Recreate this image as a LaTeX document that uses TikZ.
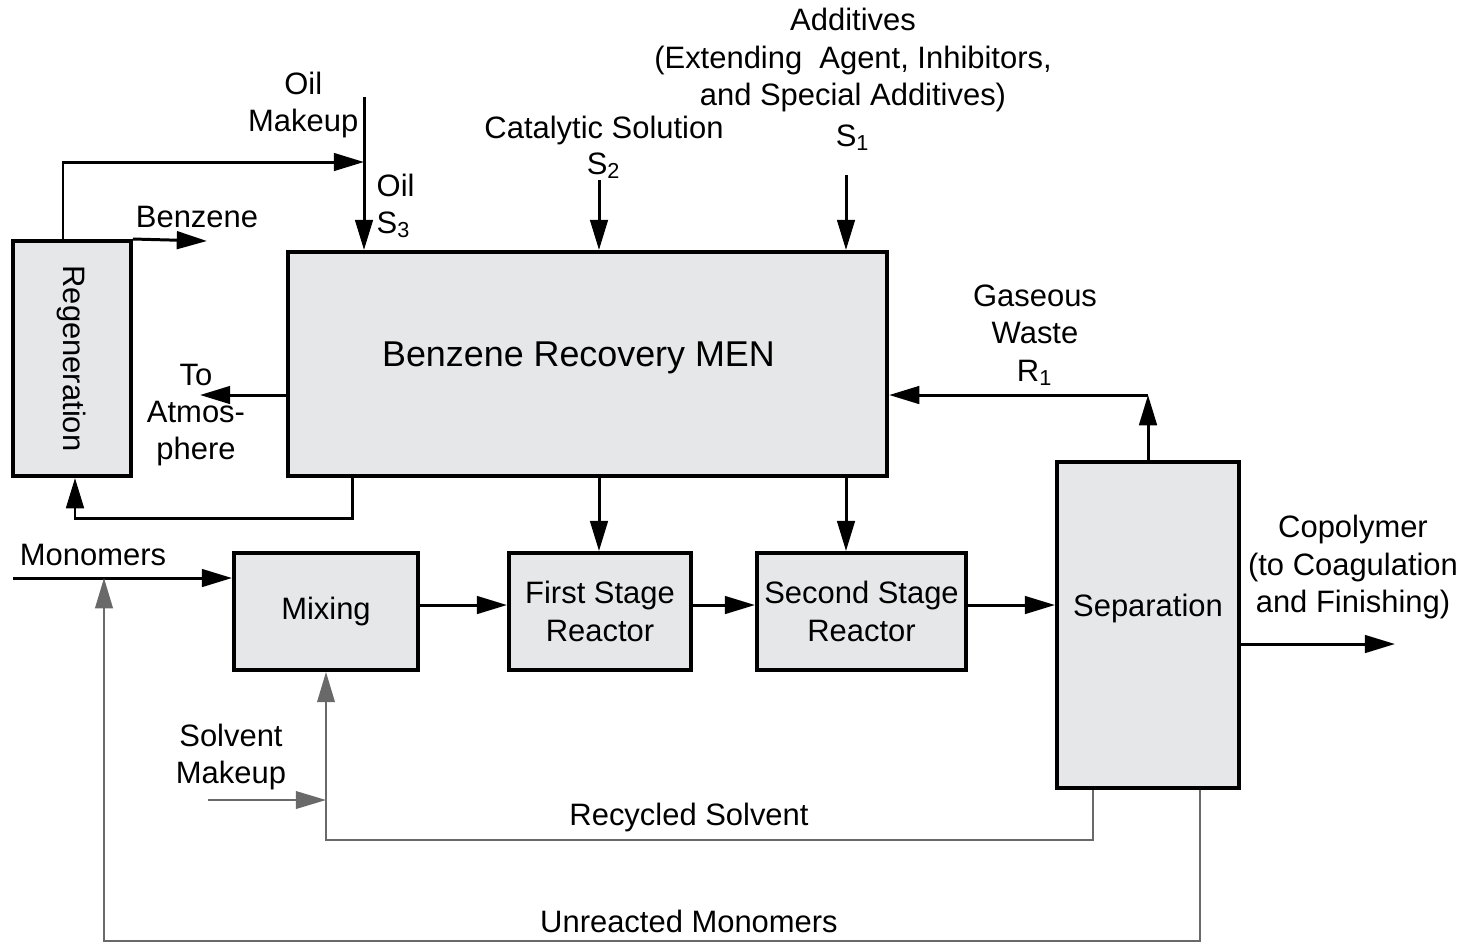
\documentclass[tikz,border=0pt]{standalone}
\usepackage{fontspec}
\setmainfont{Liberation Sans}
\usetikzlibrary{arrows.meta}
\definecolor{boxgray}{RGB}{230,231,232}
\definecolor{linegray}{RGB}{105,105,105}
\tikzset{
  unit/.style={draw, line width=1.1pt, fill=boxgray, inner sep=0pt, align=center},
  flow/.style={->, line width=0.85pt},
  recyc/.style={->, line width=0.6pt, draw=linegray},
  lbl/.style={align=center, inner sep=0pt}
}
\begin{document}
\begin{tikzpicture}[x=0.01cm, y=-0.01cm, >={Triangle[length=8.6pt,width=5pt]},
  font=\fontsize{8.8}{10.6}\selectfont, line join=miter]
		\useasboundingbox (0,0) rectangle (1473,944);
		% units
		\node[unit, minimum width=1.18cm, minimum height=2.35cm] (regen) at (72,358.5) {\rotatebox{-90}{Regeneration}};
		\node[unit, minimum width=5.99cm, minimum height=2.24cm,
		  label={[lbl, xshift=-0.09cm, yshift=0.06cm, font=\fontsize{10.2}{12}\selectfont]center:Benzene Recovery MEN}] (men) at (587.5,364) {};
		\node[unit, minimum width=1.84cm, minimum height=1.17cm] (mix) at (326,611.5) {Mixing};
		\node[unit, minimum width=1.82cm, minimum height=1.17cm] (first) at (600,611.5) {First Stage\\Reactor};
		\node[unit, minimum width=2.09cm, minimum height=1.17cm] (second) at (861.5,611.5) {Second Stage\\Reactor};
		\node[unit, minimum width=1.82cm, minimum height=3.26cm,
		  label={[lbl, yshift=0.17cm]center:Separation}] (sep) at (1148,625) {};
		% free ends
		\coordinate (oiljoin) at (364,162);
		\coordinate (oiltop) at (364,97);
		\coordinate (benzout) at (207,241);
		\coordinate (s2top) at (599,180);
		\coordinate (s1top) at (846,175);
		\coordinate (atmout) at (200,395);
		\coordinate (gasjoin) at (1148,395);
		\coordinate (monin) at (13,578);
		\coordinate (solvin) at (208,800);
		\coordinate (unrc) at (104,941);
		\coordinate (copout) at (1395,644);
		% streams
		\draw[flow] (regen.north -| 63,0) |- (oiljoin);
		\draw[flow] (oiltop) -- (men.north -| oiltop);
		\draw[flow] (regen.north east) -- (benzout);
		\draw[flow] (s2top) -- (men.north -| s2top);
		\draw[flow] (s1top) -- (men.north -| s1top);
		\draw[flow] (men.west |- atmout) -- (atmout);
		\draw[flow] (men.south -| 352,0) -- ++(0,40) -| (regen.south -| 75,0);
		\draw[flow] (sep.north) -- (gasjoin);
		\draw[flow] (gasjoin) -- (men.east |- gasjoin);
		\draw[flow] (men.south -| s2top) -- (first.north -| s2top);
		\draw[flow] (men.south -| s1top) -- (second.north -| s1top);
		\draw[flow] (monin) -- (mix.west |- monin);
		\draw[flow] (mix.east |- 0,605) -- (first.west |- 0,605);
		\draw[flow] (first.east |- 0,605) -- (second.west |- 0,605);
		\draw[flow] (second.east |- 0,605) -- (sep.west |- 0,605);
		\draw[flow] (sep.east |- copout) -- (copout);
		\draw[recyc] (sep.south -| 1093,0) -- ++(0,50) -| (mix.south);
		\draw[recyc] (solvin) -- (mix.south |- solvin);
		\draw[recyc] (sep.south -| 1200,0) |- (unrc) -- (unrc |- monin);
		% labels
		\node[lbl, anchor=east] (oilmk) at (359,105) {Oil\\Makeup};
		\node[lbl, anchor=west, align=left] (oils3) at (376,206) {Oil\\S\textsubscript{3}};
		\node[lbl] (benzlbl) at (197,217) {Benzene};
		\node[lbl] (catlbl) at (604,130) {Catalytic Solution};
		\node[lbl] (s2lbl) at (604,166) {S\textsubscript{2}};
		\node[lbl] (addlbl) at (853,60) {Additives\\(Extending~~Agent, Inhibitors,\\and Special Additives)};
		\node[lbl] (s1lbl) at (853,138) {S\textsubscript{1}};
		\node[lbl] (gaslbl) at (1035,335) {Gaseous\\Waste\\R\textsubscript{1}};
		\node[lbl] (atmlbl) at (196,415) {To\\Atmos-\\phere};
		\node[lbl] (monlbl) at (93,555) {Monomers};
		\node[lbl] (coplbl) at (1353,567) {Copolymer\\(to Coagulation\\and Finishing)};
		\node[lbl] (solvlbl) at (231,757) {Solvent\\Makeup};
		\node[lbl] (reclbl) at (689,817) {Recycled Solvent};
		\node[lbl] (unrlbl) at (689,921) {Unreacted Monomers};
	\end{tikzpicture}
\end{document}
